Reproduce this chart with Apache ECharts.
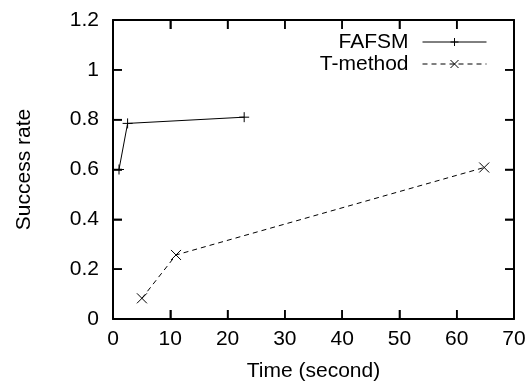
<!DOCTYPE html>
<html>
<head>
<meta charset="utf-8">
<script src="https://cdn.jsdelivr.net/npm/echarts@6/dist/echarts.min.js"></script>
<style>
html,body{margin:0;padding:0;background:#fff;}
#chart{width:531px;height:387px;}
</style>
</head>
<body>
<div id="chart"></div>
<script>
var seriesNames = ['FAFSM', 'T-method'];
var fafsmTime = [1.05, 2.55, 22.9];
var fafsmRate = [0.6, 0.785, 0.81];
var tmethodTime = [5.05, 11.0, 64.8];
var tmethodRate = [0.083, 0.257, 0.608];
var xTicks = [0, 10, 20, 30, 40, 50, 60, 70];
var yTicks = [0, 0.2, 0.4, 0.6, 0.8, 1, 1.2];
var xTitle = 'Time (second)';
var yTitle = 'Success rate';

function pairs(xs, ys) { return xs.map(function (x, i) { return [x, ys[i]]; }); }

var FONT = 'Liberation Sans';
var FS = 21;
var TICK_LEN = 9;
var xMin = xTicks[0], xMax = xTicks[xTicks.length - 1];
var yMin = yTicks[0], yMax = yTicks[yTicks.length - 1];
var plusPath = 'path://M0,5L10,5M5,0L5,10';
var crossPath = 'path://M0,0L10,10M10,0L0,10';

function axisLine() { return { show: true, onZero: false, lineStyle: { color: '#000', width: 2 } }; }
function tick() { return { show: true, inside: true, length: TICK_LEN, lineStyle: { color: '#000', width: 1.5 } }; }
function seg(x1, y1, x2, y2) {
  return { type: 'line', shape: { x1: x1, y1: y1, x2: x2, y2: y2 }, style: { stroke: '#000', lineWidth: 1.5 } };
}

var chart = echarts.init(document.getElementById('chart'));
chart.setOption({
  animation: false,
  backgroundColor: '#fff',
  textStyle: { fontFamily: FONT },
  grid: { left: 113, top: 20, right: 17, bottom: 66, containLabel: false },
  legend: {
    orient: 'vertical', right: 39, top: 26, align: 'right',
    itemWidth: 64, itemHeight: 10, itemGap: 0,
    lineStyle: { width: 1 },
    itemStyle: { borderWidth: 1 },
    textStyle: { fontFamily: FONT, fontSize: FS, color: '#000', lineHeight: 22, padding: [0, 9, 0, 0] },
    data: seriesNames
  },
  xAxis: [{
    type: 'value', min: xMin, max: xMax, interval: 10,
    name: xTitle, nameLocation: 'middle', nameGap: 42,
    nameTextStyle: { fontFamily: FONT, fontSize: FS, color: '#000' },
    axisLine: axisLine(), axisTick: tick(), splitLine: { show: false },
    axisLabel: { fontFamily: FONT, fontSize: FS, color: '#000', margin: 10 }
  }, {
    type: 'value', position: 'top', min: xMin, max: xMax, interval: 10,
    axisLine: axisLine(), axisTick: tick(), splitLine: { show: false }, axisLabel: { show: false }
  }],
  yAxis: [{
    type: 'value', min: yMin, max: yMax, interval: 0.2,
    name: yTitle, nameLocation: 'middle', nameGap: 78,
    nameTextStyle: { fontFamily: FONT, fontSize: FS, color: '#000' },
    axisLine: axisLine(), axisTick: tick(), splitLine: { show: false },
    axisLabel: { fontFamily: FONT, fontSize: FS, color: '#000', margin: 14 }
  }, {
    type: 'value', position: 'right', min: yMin, max: yMax, interval: 0.2,
    axisLine: axisLine(), axisTick: tick(), splitLine: { show: false }, axisLabel: { show: false }
  }],
  series: [{
    name: seriesNames[0], type: 'line', data: pairs(fafsmTime, fafsmRate),
    symbol: plusPath, symbolSize: 10, showAllSymbol: true,
    lineStyle: { color: '#000', width: 1 },
    itemStyle: { color: '#000', borderColor: '#000', borderWidth: 1 }
  }, {
    name: seriesNames[1], type: 'line', data: pairs(tmethodTime, tmethodRate),
    symbol: crossPath, symbolSize: 10, showAllSymbol: true,
    lineStyle: { color: '#000', width: 1, type: [5, 4] },
    itemStyle: { color: '#000', borderColor: '#000', borderWidth: 1 }
  }, {
    name: 'xTickMarks', type: 'custom', silent: true, clip: false,
    data: xTicks.map(function (v) { return [v, yMin]; }),
    renderItem: function (params, api) {
      var v = api.value(0);
      var b = api.coord([v, yMin]);
      var t = api.coord([v, yMax]);
      return { type: 'group', children: [
        seg(b[0], b[1], b[0], b[1] - TICK_LEN),
        seg(t[0], t[1], t[0], t[1] + TICK_LEN)
      ] };
    }
  }, {
    name: 'yTickMarks', type: 'custom', silent: true, clip: false,
    data: yTicks.map(function (v) { return [xMin, v]; }),
    renderItem: function (params, api) {
      var v = api.value(1);
      var l = api.coord([xMin, v]);
      var r = api.coord([xMax, v]);
      return { type: 'group', children: [
        seg(l[0], l[1], l[0] + TICK_LEN, l[1]),
        seg(r[0], r[1], r[0] - TICK_LEN, r[1])
      ] };
    }
  }]
});
</script>
</body>
</html>
